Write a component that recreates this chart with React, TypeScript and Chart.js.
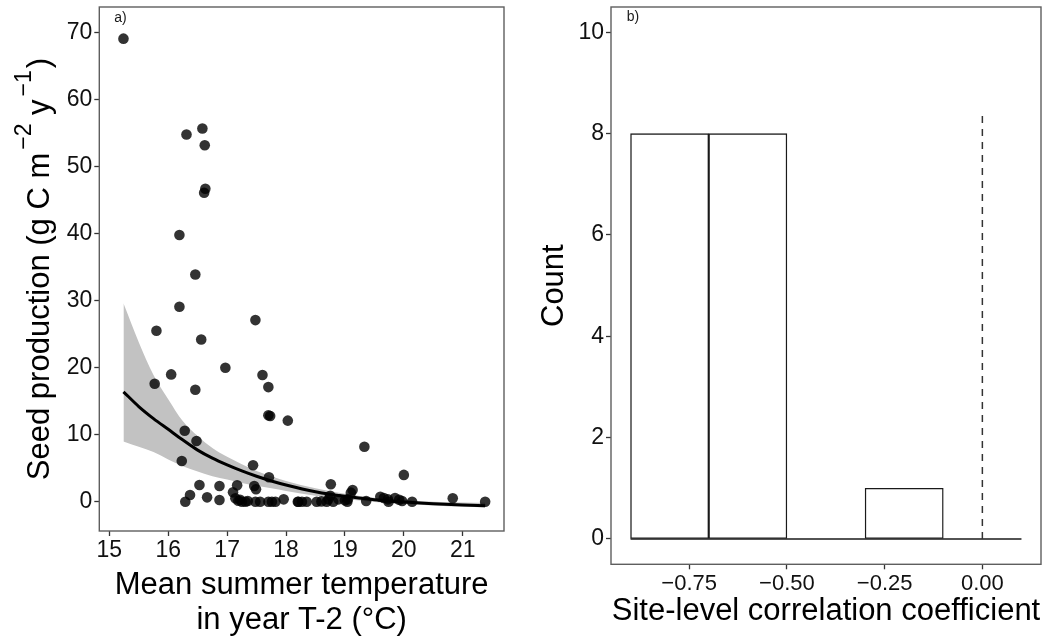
import React, { useEffect, useRef } from "react";
import { Chart, registerables } from "chart.js";

Chart.register(...registerables);

const FONT = "'Liberation Sans', Arial, Helvetica, sans-serif";

// ---------- Panel a) data ----------
const temperature = [
  15.24, 16.31, 16.58, 16.62, 16.63, 16.61, 16.19, 16.46, 16.19, 15.8,
  17.48, 16.56, 16.97, 17.6, 16.05, 15.77, 16.46, 17.7, 17.7, 17.73,
  18.03, 16.28, 16.48, 16.23, 17.44, 17.71, 16.53, 16.87, 17.17, 17.46,
  17.49, 16.37, 16.66, 17.1, 16.29, 16.87, 17.14, 17.19, 17.25, 17.31,
  17.48, 17.7, 17.76, 17.82, 17.96, 18.2, 19.33, 20.0, 18.76, 19.13,
  19.1, 18.75, 18.72, 18.89, 19.05, 19.6, 19.66, 19.73, 19.85, 20.83,
  21.38, 17.56, 18.27, 18.35, 18.52, 18.69, 19.04, 19.36, 19.74, 19.97,
  20.14, 18.21, 17.22, 17.35, 18.6, 18.8, 19.0, 19.92,
];
const seedProduction = [
  69.1, 54.8, 55.7, 53.2, 46.7, 46.1, 39.8, 33.9, 29.1, 25.5,
  27.1, 24.2, 20.0, 18.9, 19.0, 17.6, 16.7, 17.1, 12.9, 12.8,
  12.1, 10.6, 9.05, 6.07, 5.43, 3.64, 2.49, 2.34, 2.44, 2.34,
  1.85, 1.0, 0.65, 1.4, 0.0, 0.25, 0.5, 0.15, 0.0, 0.0,
  0.0, 0.0, 0.0, 0.0, 0.35, 0.0, 8.2, 4.0, 2.6, 1.74,
  1.35, 0.9, 0.35, 0.35, 0.35, 0.75, 0.55, 0.35, 0.55, 0.5,
  0.0, 0.0, 0.0, 0.0, 0.0, 0.0, 0.0, 0.1, 0.0, 0.1,
  0.0, 0.0, 0.3, 0.1, 0.05, 0.0, 0.2, 0.3,
];
const fitTemperature = [
  15.24, 15.5, 15.75, 16.0, 16.25, 16.5, 16.75, 17.0, 17.25, 17.5,
  17.75, 18.0, 18.5, 19.0, 19.5, 20.0, 20.5, 21.0, 21.38,
];
const fitSeed = [
  16.4, 14.2, 12.4, 10.8, 9.2, 7.7, 6.5, 5.5, 4.6, 3.8,
  3.1, 2.5, 1.5, 0.8, 0.3, -0.05, -0.3, -0.5, -0.6,
];
const fitUpper = [
  29.6, 23.8, 18.9, 15.3, 12.0, 9.8, 8.0, 6.7, 5.6, 4.6,
  3.8, 3.1, 2.0, 1.2, 0.6, 0.25, 0.0, -0.1, -0.15,
];
const fitLower = [
  9.0, 8.2, 7.4, 6.3, 5.3, 4.5, 3.8, 3.3, 2.8, 2.4,
  2.0, 1.6, 0.9, 0.4, -0.05, -0.35, -0.55, -0.75, -0.85,
];
const tempTicks = [15, 16, 17, 18, 19, 20, 21];
const seedTicks = [0, 10, 20, 30, 40, 50, 60, 70];

// ---------- Panel b) data ----------
const binCentres = [-0.8, -0.6, -0.4, -0.2, 0.0];
const binCounts = [8, 8, 0, 1, 0];
const binRange = [-0.9, 0.1];
const coefTicks = [-0.75, -0.5, -0.25, 0];
const coefTickLabels = ["\u22120.75", "\u22120.50", "\u22120.25", "0.00"];
const countTicks = [0, 2, 4, 6, 8, 10];
const zeroLineCounts = [0, 8.4];

const TICK_COLOR = "#333333";
const LABEL_COLOR = "#111111";
const TICK_SIZE = 23;
const TITLE_SIZE = 31;

const fixWidth = (w: number) => (scale: any) => {
  scale.width = w;
  scale.paddingTop = 0;
  scale.paddingBottom = 0;
  scale.paddingLeft = 0;
  scale.paddingRight = 0;
};
const fixHeight = (h: number) => (scale: any) => {
  scale.height = h;
  scale.paddingTop = 0;
  scale.paddingBottom = 0;
  scale.paddingLeft = 0;
  scale.paddingRight = 0;
};
const setTicks = (vals: number[]) => (scale: any) => {
  scale.ticks = vals.map((v) => ({ value: v }));
};

const boxPlugin = {
  id: "panelBox",
  afterDraw(chart: any) {
    const { ctx, chartArea: a } = chart;
    ctx.save();
    ctx.strokeStyle = "#5e5e5e";
    ctx.lineWidth = 1.4;
    ctx.strokeRect(a.left, a.top, a.right - a.left, a.bottom - a.top);
    ctx.restore();
  },
};

const panelLabelPlugin = {
  id: "panelLabel",
  afterDraw(chart: any, _args: any, opts: any) {
    if (!opts || !opts.text) return;
    const { ctx, scales } = chart;
    const px = scales.x.getPixelForValue(opts.x);
    const py = scales.y.getPixelForValue(opts.y);
    ctx.save();
    ctx.font = `14px ${FONT}`;
    ctx.fillStyle = "#1a1a1a";
    ctx.textAlign = "center";
    ctx.textBaseline = "middle";
    ctx.fillText(opts.text, px, py);
    ctx.restore();
  },
};

const richYTitlePlugin = {
  id: "richYTitle",
  afterDraw(chart: any, _args: any, opts: any) {
    if (!opts || !opts.segments) return;
    const { ctx, chartArea } = chart;
    const cy = (chartArea.top + chartArea.bottom) / 2;
    ctx.save();
    ctx.translate(opts.baselineX, cy);
    ctx.rotate(-Math.PI / 2);
    ctx.fillStyle = "#000";
    ctx.textBaseline = "alphabetic";
    ctx.textAlign = "left";
    let total = 0;
    const widths: number[] = [];
    for (const s of opts.segments) {
      ctx.font = `${s.size}px ${FONT}`;
      const w = ctx.measureText(s.text).width + (s.gap || 0);
      widths.push(w);
      total += w;
    }
    let x = -total / 2;
    opts.segments.forEach((s: any, i: number) => {
      ctx.font = `${s.size}px ${FONT}`;
      ctx.fillText(s.text, x + (s.pre || 0), -s.raise);
      x += widths[i];
    });
    ctx.restore();
  },
};

function axisCommon() {
  return {
    border: { display: false },
    grid: {
      display: true,
      offset: false,
      drawOnChartArea: false,
      drawTicks: true,
      tickLength: 5,
      tickWidth: 1.3,
      tickColor: TICK_COLOR,
    },
  };
}

export default function App() {
  const leftRef = useRef<HTMLCanvasElement>(null);
  const rightRef = useRef<HTMLCanvasElement>(null);

  useEffect(() => {
    const charts: Chart[] = [];

    if (leftRef.current) {
      const cfg: any = {
        type: "line",
        data: {
          datasets: [
            {
              label: "upper",
              data: fitTemperature.map((x, i) => ({ x, y: fitUpper[i] })),
              borderColor: "rgba(0,0,0,0)",
              borderWidth: 0,
              pointRadius: 0,
              fill: 1,
              backgroundColor: "#c2c2c2",
              cubicInterpolationMode: "monotone",
              order: 3,
            },
            {
              label: "lower",
              data: fitTemperature.map((x, i) => ({ x, y: fitLower[i] })),
              borderColor: "rgba(0,0,0,0)",
              borderWidth: 0,
              pointRadius: 0,
              fill: false,
              cubicInterpolationMode: "monotone",
              order: 3,
            },
            {
              label: "fit",
              data: fitTemperature.map((x, i) => ({ x, y: fitSeed[i] })),
              borderColor: "#000000",
              borderWidth: 3,
              pointRadius: 0,
              fill: false,
              cubicInterpolationMode: "monotone",
              order: 2,
            },
            {
              label: "observed",
              data: temperature.map((x, i) => ({ x, y: seedProduction[i] })),
              showLine: false,
              pointRadius: 5.3,
              pointBackgroundColor: "rgba(0,0,0,0.8)",
              pointBorderColor: "rgba(0,0,0,0)",
              pointBorderWidth: 0,
              fill: false,
              order: 1,
            },
          ],
        },
        options: {
          responsive: false,
          animation: false,
          devicePixelRatio: 1,
          layout: { padding: { left: 0, top: 7, right: 26, bottom: 0 }, autoPadding: false },
          plugins: {
            legend: { display: false },
            tooltip: { enabled: false },
            panelLabel: { text: "a)", x: 15.19, y: 72.1 },
            richYTitle: {
              baselineX: 49,
              segments: [
                { text: "Seed production (g C m", size: TITLE_SIZE, raise: 0 },
                { text: "\u22122", size: 23, raise: 18, pre: 3, gap: 3 },
                { text: " y", size: TITLE_SIZE, raise: 0 },
                { text: "\u22121", size: 23, raise: 18, pre: 3, gap: 5 },
                { text: ")", size: TITLE_SIZE, raise: 0 },
              ],
            },
          },
          scales: {
            x: {
              type: "linear",
              min: 14.83,
              max: 21.7,
              afterBuildTicks: setTicks(tempTicks),
              afterFit: fixHeight(109),
              ...axisCommon(),
              ticks: {
                font: { family: FONT, size: TICK_SIZE },
                color: LABEL_COLOR,
                padding: 1,
                maxRotation: 0,
                autoSkip: false,
              },
              title: {
                display: true,
                text: ["Mean summer temperature", "in year T-2 (\u00B0C)"],
                font: { family: FONT, size: TITLE_SIZE, lineHeight: 1.12 },
                color: "#000",
                padding: { top: 0, bottom: 2.5 },
              },
            },
            y: {
              type: "linear",
              min: -4.37,
              max: 73.82,
              afterBuildTicks: setTicks(seedTicks),
              afterFit: fixWidth(99.3),
              ...axisCommon(),
              ticks: {
                font: { family: FONT, size: TICK_SIZE },
                color: LABEL_COLOR,
                padding: 2,
                autoSkip: false,
              },
              title: { display: false },
            },
          },
        },
        plugins: [boxPlugin, panelLabelPlugin, richYTitlePlugin],
      };
      charts.push(new Chart(leftRef.current, cfg));
    }

    if (rightRef.current) {
      const cfg: any = {
        type: "bar",
        data: {
          datasets: [
            {
              type: "line",
              label: "zero line",
              data: zeroLineCounts.map((y) => ({ x: 0, y })),
              borderColor: "#333333",
              borderWidth: 1.5,
              borderDash: [7, 6],
              pointRadius: 0,
              fill: false,
              order: 1,
            },
            {
              type: "line",
              label: "baseline",
              data: binRange.map((x) => ({ x, y: 0 })),
              borderColor: "#1a1a1a",
              borderWidth: 1.5,
              pointRadius: 0,
              fill: false,
              order: 2,
            },
            {
              type: "bar",
              label: "count",
              data: binCentres.map((x, i) => ({ x, y: binCounts[i] })),
              backgroundColor: "#ffffff",
              borderColor: "#1a1a1a",
              borderWidth: 1.4,
              borderSkipped: false,
              barPercentage: 1,
              categoryPercentage: 1,
              order: 3,
            },
          ],
        },
        options: {
          responsive: false,
          animation: false,
          devicePixelRatio: 1,
          layout: { padding: { left: 0, top: 7, right: 7, bottom: 0 }, autoPadding: false },
          plugins: {
            legend: { display: false },
            tooltip: { enabled: false },
            panelLabel: { text: "b)", x: -0.894, y: 10.3 },
          },
          scales: {
            x: {
              type: "linear",
              min: -0.95,
              max: 0.15,
              offset: false,
              afterBuildTicks: setTicks(coefTicks),
              afterFit: fixHeight(75.7),
              ...axisCommon(),
              ticks: {
                font: { family: FONT, size: 22 },
                color: LABEL_COLOR,
                padding: 1,
                maxRotation: 0,
                autoSkip: false,
                callback: (v: number) => {
                  const i = coefTicks.findIndex((t) => Math.abs(t - v) < 1e-9);
                  return i >= 0 ? coefTickLabels[i] : "";
                },
              },
              title: {
                display: true,
                text: "Site-level correlation coefficient",
                font: { family: FONT, size: TITLE_SIZE, lineHeight: 1.12 },
                color: "#000",
                padding: { top: 0, bottom: 11.5 },
              },
            },
            y: {
              type: "linear",
              min: -0.5,
              max: 10.5,
              afterBuildTicks: setTicks(countTicks),
              afterFit: fixWidth(81),
              ...axisCommon(),
              ticks: {
                font: { family: FONT, size: TICK_SIZE },
                color: LABEL_COLOR,
                padding: 2,
                autoSkip: false,
              },
              title: {
                display: true,
                text: "Count",
                font: { family: FONT, size: TITLE_SIZE, lineHeight: 1.12 },
                color: "#000",
                padding: { top: 7.5, bottom: 0 },
              },
            },
          },
        },
        plugins: [boxPlugin, panelLabelPlugin],
      };
      charts.push(new Chart(rightRef.current, cfg));
    }

    return () => {
      charts.forEach((c) => c.destroy());
    };
  }, []);

  return (
    <div
      style={{
        position: "absolute",
        left: 0,
        top: 0,
        width: 1048,
        height: 640,
        background: "#ffffff",
        overflow: "hidden",
      }}
    >
      <canvas
        ref={leftRef}
        width={530}
        height={640}
        style={{ position: "absolute", left: 0, top: 0, width: 530, height: 640 }}
      />
      <canvas
        ref={rightRef}
        width={518}
        height={640}
        style={{ position: "absolute", left: 530, top: 0, width: 518, height: 640 }}
      />
    </div>
  );
}
